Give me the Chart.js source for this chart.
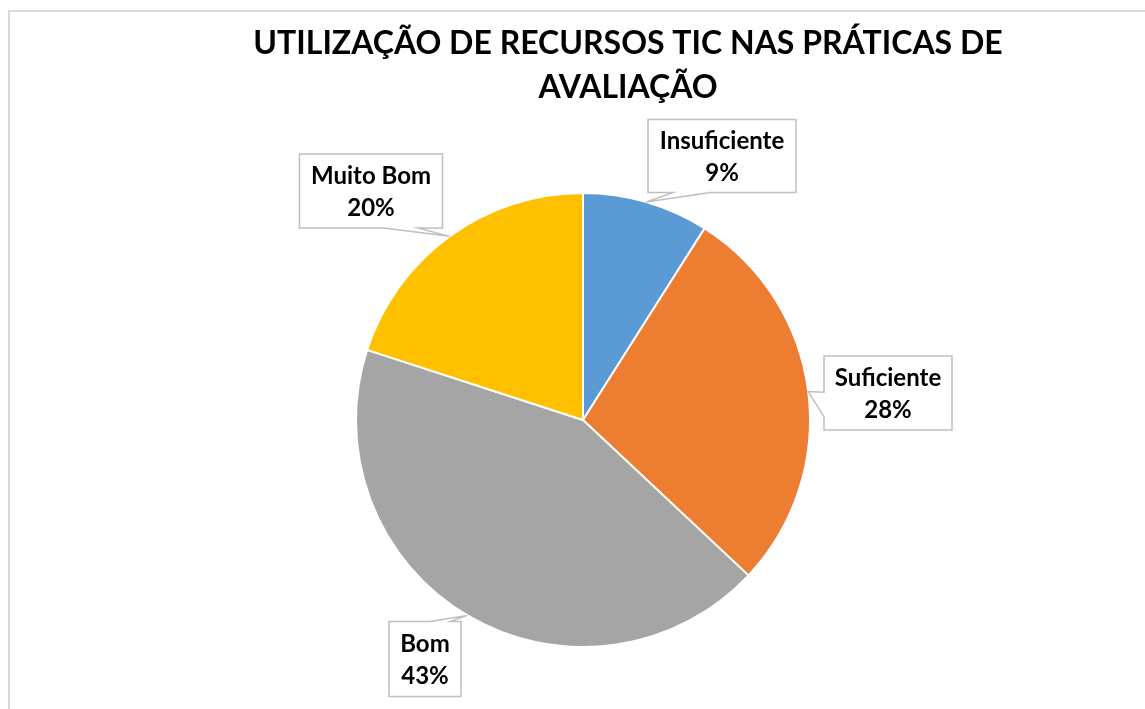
<!doctype html>
<html lang="pt">
<head>
<meta charset="utf-8">
<title>Utilização de recursos TIC</title>
<style>
    * { margin: 0; padding: 0; }
    body { background: #fff; }
</style>
<script src="https://cdn.jsdelivr.net/npm/chart.js"></script>
</head>
<body>
<canvas id="pieChart" width="1145" height="709"></canvas>
<script>
const categories = ['Insuficiente', 'Suficiente', 'Bom', 'Muito Bom'];
const percentages = [9, 28, 43, 20];
const sliceColors = ['#5B9BD5', '#ED7D31', '#A5A5A5', '#FFC000'];
const titleLines = ['UTILIZAÇÃO DE RECURSOS TIC NAS PRÁTICAS DE', 'AVALIAÇÃO'];

// label boxes: centre, size, and which side the pointer leaves from (fractions along that side)
const callouts = [
    { cx: 722, cy: 156, w: 148, h: 73, side: 'bottom', from: 0.17, to: 0.42 },
    { cx: 888, cy: 393, w: 128, h: 74, side: 'left', from: 0.49, to: 0.82 },
    { cx: 425, cy: 659, w: 72, h: 75, side: 'top', from: 0.57, to: 0.85 },
    { cx: 371, cy: 191, w: 143, h: 74, side: 'bottom', from: 0.59, to: 0.83 }
];

function calloutPath(ctx, c, tip) {
    const L = c.cx - c.w / 2, T = c.cy - c.h / 2;
    const R = L + c.w, B = T + c.h;
    ctx.beginPath();
    ctx.moveTo(L, T);
    if (c.side === 'top') {
        ctx.lineTo(L + c.w * c.from, T);
        ctx.lineTo(tip.x, tip.y);
        ctx.lineTo(L + c.w * c.to, T);
    }
    ctx.lineTo(R, T);
    ctx.lineTo(R, B);
    if (c.side === 'bottom') {
        ctx.lineTo(L + c.w * c.to, B);
        ctx.lineTo(tip.x, tip.y);
        ctx.lineTo(L + c.w * c.from, B);
    }
    ctx.lineTo(L, B);
    if (c.side === 'left') {
        ctx.lineTo(L, T + c.h * c.to);
        ctx.lineTo(tip.x, tip.y);
        ctx.lineTo(L, T + c.h * c.from);
    }
    ctx.closePath();
}

const frameAndTitle = {
    id: 'frameAndTitle',
    beforeDraw(chart) {
        const ctx = chart.ctx;
        ctx.save();
        ctx.fillStyle = '#fff';
        ctx.fillRect(0, 0, chart.width, chart.height);
        ctx.strokeStyle = '#D9D9D9';
        ctx.lineWidth = 2;
        ctx.strokeRect(9, 11, 1200, 800);
        ctx.fillStyle = '#000';
        ctx.font = 'bold 32px Lato';
        ctx.textAlign = 'center';
        ctx.textBaseline = 'alphabetic';
        ctx.fillText(titleLines[0], 628, 54);
        ctx.fillText(titleLines[1], 628, 98);
        ctx.restore();
    }
};

const calloutLabels = {
    id: 'calloutLabels',
    afterDatasetsDraw(chart) {
        const ctx = chart.ctx;
        const arcs = chart.getDatasetMeta(0).data;
        ctx.save();
        arcs.forEach((arc, i) => {
            const c = callouts[i];
            const mid = (arc.startAngle + arc.endAngle) / 2;
            const tip = {
                x: arc.x + Math.cos(mid) * arc.outerRadius,
                y: arc.y + Math.sin(mid) * arc.outerRadius
            };
            calloutPath(ctx, c, tip);
            ctx.fillStyle = '#fff';
            ctx.fill();
            ctx.strokeStyle = '#BFBFBF';
            ctx.lineWidth = 1.5;
            ctx.stroke();

            ctx.fillStyle = '#000';
            ctx.font = 'bold 24px Lato';
            ctx.textAlign = 'center';
            ctx.textBaseline = 'alphabetic';
            ctx.fillText(categories[i], c.cx, c.cy - 7);
            ctx.fillText(percentages[i] + '%', c.cx, c.cy + 25);
        });
        ctx.restore();
    }
};

new Chart(document.getElementById('pieChart'), {
    type: 'pie',
    data: {
        labels: categories,
        datasets: [{
            data: percentages,
            backgroundColor: sliceColors,
            borderColor: '#fff',
            borderWidth: 2
        }]
    },
    options: {
        responsive: false,
        animation: false,
        layout: { padding: { top: 192, bottom: 61, left: 355, right: 334 } },
        plugins: {
            legend: { display: false },
            tooltip: { enabled: false }
        }
    },
    plugins: [frameAndTitle, calloutLabels]
});
</script>
</body>
</html>
